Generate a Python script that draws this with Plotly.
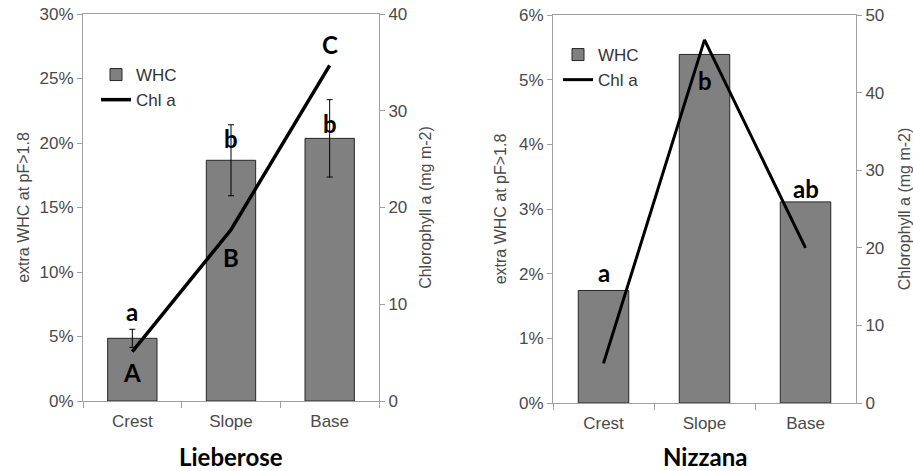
import plotly.graph_objects as go

categories = ["Crest", "Slope", "Base"]

# Lieberose
lieb_whc = [0.0486, 0.1866, 0.2036]
lieb_whc_err = [0.007, 0.0275, 0.030]
lieb_chl = [5.1, 17.7, 34.7]
lieb_whc_letters = ["a", "b", "b"]
lieb_chl_letters = ["A", "B", "C"]

# Nizzana
nizz_whc = [0.0174, 0.0539, 0.0311]
nizz_chl = [5.1, 46.8, 20.0]
nizz_whc_letters = ["a", "b", "ab"]

left_ticks = ["0%", "5%", "10%", "15%", "20%", "25%", "30%"]
right_ticks = ["0%", "1%", "2%", "3%", "4%", "5%", "6%"]

W, H = 913, 471
BAR_FILL = "#808080"
BAR_LINE = "#262626"
AX_COL = "#a0a0a0"
TXT_COL = "#4a4a4a"
TICK_FONT = dict(family="Liberation Sans, Arial", size=17, color=TXT_COL)
TITLE_FONT = dict(family="Liberation Sans, Arial", size=16, color=TXT_COL)
LET_FONT = dict(family="Lato, Open Sans", size=24, color="black")

fig = go.Figure()

# Left panel
fig.add_trace(go.Bar(x=categories, y=lieb_whc, name="WHC", xaxis="x", yaxis="y",
                     marker=dict(color=BAR_FILL, line=dict(color=BAR_LINE, width=1)),
                     error_y=dict(type="data", array=lieb_whc_err, color="black", thickness=1, width=3),
                     legend="legend"))
fig.add_trace(go.Scatter(x=categories, y=lieb_chl, name="Chl a", xaxis="x", yaxis="y2",
                         mode="lines", line=dict(color="black", width=3.5), legend="legend"))

# Right panel
fig.add_trace(go.Bar(x=categories, y=nizz_whc, name="WHC", xaxis="x2", yaxis="y3",
                     marker=dict(color=BAR_FILL, line=dict(color=BAR_LINE, width=1)),
                     legend="legend2"))
fig.add_trace(go.Scatter(x=categories, y=nizz_chl, name="Chl a", xaxis="x2", yaxis="y4",
                         mode="lines", line=dict(color="black", width=3), legend="legend2"))

xcommon = dict(type="category", showline=True, linecolor=AX_COL, linewidth=1, mirror=True,
               ticks="outside", ticklen=6, tickcolor=AX_COL, tickson="boundaries",
               ticklabelstandoff=5,
               tickfont=TICK_FONT, showgrid=False, zeroline=False, automargin=False)
ycommon = dict(showline=True, linecolor=AX_COL, linewidth=1, ticks="outside", ticklen=5,
               tickcolor=AX_COL, tickfont=TICK_FONT, showgrid=False, zeroline=False,
               automargin=False)

LEG_FONT = dict(family="Liberation Sans, Arial", size=17, color="#333")

fig.update_layout(
    width=W, height=H,
    margin=dict(l=0, r=0, t=0, b=0),
    paper_bgcolor="white", plot_bgcolor="white",
    bargap=0.5,
    showlegend=True,
    xaxis=dict(domain=[83 / W, 379 / W], anchor="y", **xcommon),
    yaxis=dict(domain=[1 - 401 / H, 1 - 14 / H], anchor="x", range=[0, 0.30],
               tickvals=[i * 0.05 for i in range(7)], ticktext=left_ticks,
               title=dict(text="extra WHC at pF>1.8", font=TITLE_FONT, standoff=5), **ycommon),
    yaxis2=dict(overlaying="y", side="right", anchor="x", range=[0, 40], dtick=10,
                title=dict(text="Chlorophyll a (mg m-2)", font=TITLE_FONT, standoff=13), **ycommon),
    xaxis2=dict(domain=[553 / W, 856 / W], anchor="y3", **xcommon),
    yaxis3=dict(domain=[1 - 403 / H, 1 - 15 / H], anchor="x2", range=[0, 0.06],
                tickvals=[i * 0.01 for i in range(7)], ticktext=right_ticks,
                title=dict(text="extra WHC at pF>1.8", font=TITLE_FONT, standoff=8), **ycommon),
    yaxis4=dict(overlaying="y3", side="right", anchor="x2", range=[0, 50], dtick=10,
                title=dict(text="Chlorophyll a (mg m-2)", font=TITLE_FONT, standoff=15), **ycommon),
    legend=dict(x=96 / W, y=1 - 57 / H, xanchor="left", yanchor="top", font=LEG_FONT,
                bgcolor="rgba(0,0,0,0)", tracegroupgap=0, itemwidth=30),
    legend2=dict(x=558 / W, y=1 - 37 / H, xanchor="left", yanchor="top", font=LEG_FONT,
                 bgcolor="rgba(0,0,0,0)", tracegroupgap=0, itemwidth=30),
)

annotations = []
lw_shift = [27, 22, 15]
for c, v, t, s in zip(categories, lieb_whc, lieb_whc_letters, lw_shift):
    annotations.append(dict(x=c, y=v, xref="x", yref="y", text=f"<b>{t}</b>", showarrow=False,
                            yshift=s, font=LET_FONT))
lc_shift = [-21, -28, 21]
for c, v, t, s in zip(categories, lieb_chl, lieb_chl_letters, lc_shift):
    annotations.append(dict(x=c, y=v, xref="x", yref="y2", text=f"<b>{t}</b>", showarrow=False,
                            yshift=s, font=LET_FONT))
nw_shift = [18, -26, 13]
for c, v, t, s in zip(categories, nizz_whc, nizz_whc_letters, nw_shift):
    annotations.append(dict(x=c, y=v, xref="x2", yref="y3", text=f"<b>{t}</b>", showarrow=False,
                            yshift=s, font=LET_FONT))
PANEL_FONT = dict(family="Lato, Open Sans", size=24, color="black")
annotations.append(dict(x=(83 + 379) / 2 / W, y=1 - 456 / H, xref="paper", yref="paper",
                        xanchor="center", yanchor="middle",
                        text="<b>Lieberose</b>", showarrow=False, font=PANEL_FONT))
annotations.append(dict(x=(553 + 856) / 2 / W, y=1 - 456 / H, xref="paper", yref="paper",
                        xanchor="center", yanchor="middle",
                        text="<b>Nizzana</b>", showarrow=False, font=PANEL_FONT))
fig.update_layout(annotations=annotations)

fig.write_html("out.html", config={"displayModeBar": False},
               post_script="document.body.style.margin='0';")
